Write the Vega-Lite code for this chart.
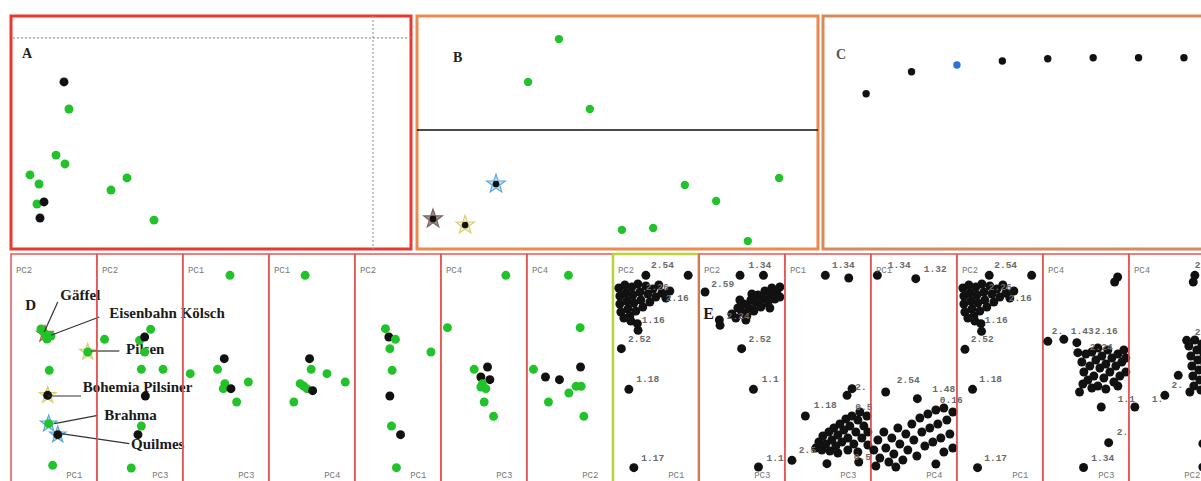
{
"$schema":"https://vega.github.io/schema/vega-lite/v6.json",
"background":"white",
"padding":{"left":8,"top":13,"right":0,"bottom":0},
"spacing":0,
"datasets":{"bottom":[
{"panel":"D1","kind":"hy","txt":"PC2","x":-3.79,"y":10.0},{"panel":"D1","kind":"hx","txt":"PC1","x":2.85,"y":-10.5},
{"panel":"D2","kind":"hy","txt":"PC2","x":-3.79,"y":10.0},{"panel":"D2","kind":"hx","txt":"PC3","x":2.85,"y":-10.5},
{"panel":"D3","kind":"hy","txt":"PC1","x":-3.79,"y":10.0},{"panel":"D3","kind":"hx","txt":"PC3","x":2.85,"y":-10.5},
{"panel":"D4","kind":"hy","txt":"PC1","x":-3.79,"y":10.0},{"panel":"D4","kind":"hx","txt":"PC4","x":2.85,"y":-10.5},
{"panel":"D5","kind":"hy","txt":"PC2","x":-3.79,"y":10.0},{"panel":"D5","kind":"hx","txt":"PC1","x":2.85,"y":-10.5},
{"panel":"D6","kind":"hy","txt":"PC4","x":-3.79,"y":10.0},{"panel":"D6","kind":"hx","txt":"PC3","x":2.85,"y":-10.5},
{"panel":"D7","kind":"hy","txt":"PC4","x":-3.79,"y":10.0},{"panel":"D7","kind":"hx","txt":"PC2","x":2.85,"y":-10.5},
{"panel":"E1","kind":"hy","txt":"PC2","x":-3.79,"y":10.0},{"panel":"E1","kind":"hx","txt":"PC1","x":2.85,"y":-10.5},
{"panel":"E2","kind":"hy","txt":"PC2","x":-3.79,"y":10.0},{"panel":"E2","kind":"hx","txt":"PC3","x":2.85,"y":-10.5},
{"panel":"E3","kind":"hy","txt":"PC1","x":-3.79,"y":10.0},{"panel":"E3","kind":"hx","txt":"PC3","x":2.85,"y":-10.5},
{"panel":"E4","kind":"hy","txt":"PC1","x":-3.79,"y":10.0},{"panel":"E4","kind":"hx","txt":"PC4","x":2.85,"y":-10.5},
{"panel":"E5","kind":"hy","txt":"PC2","x":-3.79,"y":10.0},{"panel":"E5","kind":"hx","txt":"PC1","x":2.85,"y":-10.5},
{"panel":"E6","kind":"hy","txt":"PC4","x":-3.79,"y":10.0},{"panel":"E6","kind":"hx","txt":"PC3","x":2.85,"y":-10.5},
{"panel":"E7","kind":"hy","txt":"PC4","x":-3.79,"y":10.0},{"panel":"E7","kind":"hx","txt":"PC2","x":2.85,"y":-10.5},
{"panel":"D1","kind":"s","st":"brown","x":-0.89,"y":3.6},{"panel":"D1","kind":"s","st":"yellow","x":3.39,"y":1.8},{"panel":"D1","kind":"s","st":"yellow","x":-0.62,"y":-2.53},
{"panel":"D1","kind":"s","st":"blue","x":-0.52,"y":-5.37},{"panel":"D1","kind":"s","st":"blue","x":0.39,"y":-6.47},
{"panel":"D1","kind":"p","grp":"g","x":-1.29,"y":4.1},{"panel":"D1","kind":"p","grp":"g","x":-0.69,"y":3.1},{"panel":"D1","kind":"p","grp":"g","x":-0.29,"y":3.4},
{"panel":"D1","kind":"p","grp":"g","x":-0.89,"y":3.6},{"panel":"D1","kind":"p","grp":"g","x":3.39,"y":1.8},{"panel":"D1","kind":"p","grp":"g","x":-0.46,"y":-0.03},
{"panel":"D1","kind":"p","grp":"b","x":-0.62,"y":-2.53},{"panel":"D1","kind":"p","grp":"g","x":-0.52,"y":-5.37},{"panel":"D1","kind":"p","grp":"b","x":0.39,"y":-6.47},
{"panel":"D1","kind":"p","grp":"g","x":-0.12,"y":-9.53},
{"panel":"D2","kind":"p","grp":"g","x":-3.53,"y":3.07},{"panel":"D2","kind":"p","grp":"g","x":1.08,"y":4.07},{"panel":"D2","kind":"p","grp":"g","x":-0.03,"y":2.97},
{"panel":"D2","kind":"p","grp":"b","x":0.48,"y":3.3},{"panel":"D2","kind":"p","grp":"g","x":0.48,"y":1.8},{"panel":"D2","kind":"p","grp":"g","x":0.15,"y":0.07},
{"panel":"D2","kind":"p","grp":"g","x":2.32,"y":0.07},{"panel":"D2","kind":"p","grp":"b","x":0.55,"y":-2.6},{"panel":"D2","kind":"p","grp":"g","x":0.15,"y":-5.6},
{"panel":"D2","kind":"p","grp":"b","x":-0.19,"y":-6.47},{"panel":"D2","kind":"p","grp":"g","x":-0.86,"y":-9.8},
{"panel":"D3","kind":"p","grp":"g","x":0.41,"y":9.47},{"panel":"D3","kind":"p","grp":"b","x":-0.16,"y":1.13},{"panel":"D3","kind":"p","grp":"g","x":-0.83,"y":0.07},
{"panel":"D3","kind":"p","grp":"g","x":-3.56,"y":-0.37},{"panel":"D3","kind":"p","grp":"g","x":2.25,"y":-1.2},{"panel":"D3","kind":"p","grp":"g","x":-0.1,"y":-1.37},
{"panel":"D3","kind":"p","grp":"g","x":-0.26,"y":-1.87},{"panel":"D3","kind":"p","grp":"b","x":0.51,"y":-1.87},{"panel":"D3","kind":"p","grp":"g","x":1.08,"y":-3.2},
{"panel":"D4","kind":"p","grp":"g","x":-0.67,"y":9.47},{"panel":"D4","kind":"p","grp":"b","x":-0.23,"y":1.13},{"panel":"D4","kind":"p","grp":"g","x":-0.07,"y":0.07},
{"panel":"D4","kind":"p","grp":"g","x":1.51,"y":-0.37},{"panel":"D4","kind":"p","grp":"g","x":3.34,"y":-1.2},{"panel":"D4","kind":"p","grp":"g","x":-1.17,"y":-1.37},
{"panel":"D4","kind":"p","grp":"g","x":-0.83,"y":-1.6},{"panel":"D4","kind":"p","grp":"g","x":-0.5,"y":-1.87},{"panel":"D4","kind":"p","grp":"b","x":0.08,"y":-2.07},
{"panel":"D4","kind":"p","grp":"g","x":-1.8,"y":-3.2},
{"panel":"D5","kind":"p","grp":"g","x":-1.24,"y":4.13},{"panel":"D5","kind":"p","grp":"b","x":-0.9,"y":3.3},{"panel":"D5","kind":"p","grp":"g","x":-0.24,"y":3.07},
{"panel":"D5","kind":"p","grp":"g","x":-0.8,"y":2.13},{"panel":"D5","kind":"p","grp":"g","x":3.31,"y":1.8},{"panel":"D5","kind":"p","grp":"g","x":-0.57,"y":-0.03},
{"panel":"D5","kind":"p","grp":"b","x":-0.8,"y":-2.6},{"panel":"D5","kind":"p","grp":"g","x":-0.64,"y":-5.6},{"panel":"D5","kind":"p","grp":"b","x":0.27,"y":-6.47},
{"panel":"D5","kind":"p","grp":"g","x":-0.14,"y":-9.77},
{"panel":"D6","kind":"p","grp":"g","x":2.2,"y":9.47},{"panel":"D6","kind":"p","grp":"g","x":-3.64,"y":4.23},{"panel":"D6","kind":"p","grp":"g","x":-0.97,"y":0.07},
{"panel":"D6","kind":"p","grp":"b","x":0.37,"y":0.3},{"panel":"D6","kind":"p","grp":"b","x":-0.3,"y":-0.7},{"panel":"D6","kind":"p","grp":"b","x":0.6,"y":-0.97},
{"panel":"D6","kind":"p","grp":"g","x":-0.14,"y":-1.37},{"panel":"D6","kind":"p","grp":"g","x":0.2,"y":-1.87},{"panel":"D6","kind":"p","grp":"g","x":-0.3,"y":-1.7},
{"panel":"D6","kind":"p","grp":"g","x":0.03,"y":-3.2},{"panel":"D6","kind":"p","grp":"g","x":0.97,"y":-4.63},
{"panel":"D7","kind":"p","grp":"g","x":-0.14,"y":9.47},{"panel":"D7","kind":"p","grp":"g","x":1.03,"y":4.23},{"panel":"D7","kind":"p","grp":"g","x":-3.64,"y":0.07},
{"panel":"D7","kind":"p","grp":"b","x":-2.44,"y":-0.7},{"panel":"D7","kind":"p","grp":"b","x":-1.04,"y":-0.97},{"panel":"D7","kind":"p","grp":"b","x":1.07,"y":0.3},
{"panel":"D7","kind":"p","grp":"g","x":0.63,"y":-1.63},{"panel":"D7","kind":"p","grp":"g","x":1.13,"y":-1.63},{"panel":"D7","kind":"p","grp":"g","x":-0.1,"y":-2.3},
{"panel":"D7","kind":"p","grp":"g","x":-2.14,"y":-3.2},{"panel":"D7","kind":"p","grp":"g","x":1.4,"y":-4.63},
{"panel":"D1","kind":"t","txt":"D","x":-2.85,"y":6.47},{"panel":"D1","kind":"t","txt":"Gäffel","x":0.65,"y":7.53},
{"panel":"D1","kind":"t","txt":"Eisenbahn Kölsch","x":5.55,"y":5.73},{"panel":"D1","kind":"t","txt":"Pilsen","x":7.22,"y":2.07},
{"panel":"D1","kind":"t","txt":"Bohemia Pilsiner","x":2.89,"y":-1.7},{"panel":"D1","kind":"t","txt":"Brahma","x":5.05,"y":-4.47},
{"panel":"D1","kind":"t","txt":"Quilmes","x":7.72,"y":-7.37},{"panel":"E2","kind":"t","txt":"E","x":-3.85,"y":5.63},
{"panel":"D1","kind":"l","x":0.39,"y":6.8,"x2":-0.96,"y2":3.8},{"panel":"D1","kind":"l","x":4.55,"y":5.3,"x2":-0.29,"y2":3.47},
{"panel":"D1","kind":"l","x":6.55,"y":1.9,"x2":3.72,"y2":1.9},{"panel":"D1","kind":"l","x":2.72,"y":-2.6,"x2":-0.62,"y2":-2.6},
{"panel":"D1","kind":"l","x":4.39,"y":-4.53,"x2":0.05,"y2":-5.37},{"panel":"D1","kind":"l","x":7.55,"y":-7.37,"x2":0.72,"y2":-6.37},
{"panel":"E1","kind":"p","grp":"b","x":-1.0,"y":9.47},{"panel":"E1","kind":"p","grp":"b","x":3.23,"y":9.47},{"panel":"E1","kind":"p","grp":"b","x":-3.45,"y":2.13},
{"panel":"E1","kind":"p","grp":"b","x":-2.7,"y":-1.93},{"panel":"E1","kind":"p","grp":"b","x":-2.2,"y":-9.77},{"panel":"E1","kind":"p","grp":"b","x":-1.85,"y":4.63},
{"panel":"E1","kind":"p","grp":"b","x":-1.78,"y":3.97},
{"panel":"E1","kind":"p","grp":"b","x":-3.7,"y":8.2},{"panel":"E1","kind":"p","grp":"b","x":-3.6,"y":7.4},{"panel":"E1","kind":"p","grp":"b","x":-3.6,"y":6.6},
{"panel":"E1","kind":"p","grp":"b","x":-3.5,"y":5.8},{"panel":"E1","kind":"p","grp":"b","x":-3.1,"y":8.5},{"panel":"E1","kind":"p","grp":"b","x":-3.0,"y":7.7},
{"panel":"E1","kind":"p","grp":"b","x":-2.9,"y":6.9},{"panel":"E1","kind":"p","grp":"b","x":-2.8,"y":6.1},{"panel":"E1","kind":"p","grp":"b","x":-2.6,"y":5.4},
{"panel":"E1","kind":"p","grp":"b","x":-2.4,"y":8.3},{"panel":"E1","kind":"p","grp":"b","x":-2.3,"y":7.5},{"panel":"E1","kind":"p","grp":"b","x":-2.2,"y":6.7},
{"panel":"E1","kind":"p","grp":"b","x":-2.0,"y":5.9},{"panel":"E1","kind":"p","grp":"b","x":-1.8,"y":8.6},{"panel":"E1","kind":"p","grp":"b","x":-1.6,"y":7.8},
{"panel":"E1","kind":"p","grp":"b","x":-1.5,"y":7.0},{"panel":"E1","kind":"p","grp":"b","x":-1.3,"y":6.3},{"panel":"E1","kind":"p","grp":"b","x":-1.0,"y":8.4},
{"panel":"E1","kind":"p","grp":"b","x":-0.8,"y":7.6},{"panel":"E1","kind":"p","grp":"b","x":-0.6,"y":6.8},{"panel":"E1","kind":"p","grp":"b","x":-0.3,"y":8.1},
{"panel":"E1","kind":"p","grp":"b","x":0.0,"y":7.3},{"panel":"E1","kind":"p","grp":"b","x":0.3,"y":8.5},{"panel":"E1","kind":"p","grp":"b","x":0.6,"y":7.7},
{"panel":"E1","kind":"p","grp":"b","x":1.0,"y":7.2},{"panel":"E1","kind":"p","grp":"b","x":1.4,"y":7.9},{"panel":"E1","kind":"p","grp":"b","x":-3.2,"y":5.2},
{"panel":"E1","kind":"p","grp":"b","x":-2.5,"y":4.9},
{"panel":"E2","kind":"p","grp":"b","x":-0.18,"y":9.47},{"panel":"E2","kind":"p","grp":"b","x":2.16,"y":9.47},{"panel":"E2","kind":"p","grp":"b","x":-3.68,"y":7.8},
{"panel":"E2","kind":"p","grp":"b","x":-2.18,"y":4.47},{"panel":"E2","kind":"p","grp":"b","x":-2.25,"y":5.0},{"panel":"E2","kind":"p","grp":"b","x":-0.02,"y":2.13},
{"panel":"E2","kind":"p","grp":"b","x":1.16,"y":-1.93},{"panel":"E2","kind":"p","grp":"b","x":1.66,"y":-9.7},
{"panel":"E2","kind":"p","grp":"b","x":-1.0,"y":5.6},{"panel":"E2","kind":"p","grp":"b","x":-0.6,"y":5.2},{"panel":"E2","kind":"p","grp":"b","x":-0.4,"y":6.2},
{"panel":"E2","kind":"p","grp":"b","x":0.0,"y":5.8},{"panel":"E2","kind":"p","grp":"b","x":0.2,"y":6.6},{"panel":"E2","kind":"p","grp":"b","x":0.5,"y":5.4},
{"panel":"E2","kind":"p","grp":"b","x":0.7,"y":6.2},{"panel":"E2","kind":"p","grp":"b","x":0.9,"y":7.0},{"panel":"E2","kind":"p","grp":"b","x":1.2,"y":5.9},
{"panel":"E2","kind":"p","grp":"b","x":1.4,"y":6.7},{"panel":"E2","kind":"p","grp":"b","x":1.6,"y":7.5},{"panel":"E2","kind":"p","grp":"b","x":1.9,"y":6.3},
{"panel":"E2","kind":"p","grp":"b","x":2.1,"y":7.1},{"panel":"E2","kind":"p","grp":"b","x":2.3,"y":7.9},{"panel":"E2","kind":"p","grp":"b","x":2.6,"y":6.7},
{"panel":"E2","kind":"p","grp":"b","x":2.8,"y":7.5},{"panel":"E2","kind":"p","grp":"b","x":3.0,"y":8.2},{"panel":"E2","kind":"p","grp":"b","x":3.3,"y":7.1},
{"panel":"E2","kind":"p","grp":"b","x":3.5,"y":7.8},{"panel":"E2","kind":"p","grp":"b","x":3.8,"y":8.3},{"panel":"E2","kind":"p","grp":"b","x":3.8,"y":7.3},
{"panel":"E2","kind":"p","grp":"b","x":1.0,"y":7.6},{"panel":"E2","kind":"p","grp":"b","x":-0.2,"y":7.0},{"panel":"E2","kind":"p","grp":"b","x":2.8,"y":6.2},
{"panel":"E2","kind":"p","grp":"b","x":0.4,"y":5.0},
{"panel":"E3","kind":"p","grp":"b","x":-0.25,"y":9.47},{"panel":"E3","kind":"p","grp":"b","x":2.09,"y":9.2},{"panel":"E3","kind":"p","grp":"b","x":-2.25,"y":-4.6},
{"panel":"E3","kind":"p","grp":"b","x":1.92,"y":-2.53},{"panel":"E3","kind":"p","grp":"b","x":2.42,"y":-1.87},{"panel":"E3","kind":"p","grp":"b","x":-3.59,"y":-9.03},
{"panel":"E3","kind":"p","grp":"b","x":-0.09,"y":-9.37},{"panel":"E3","kind":"p","grp":"b","x":3.09,"y":-9.2},
{"panel":"E3","kind":"p","grp":"b","x":-1.2,"y":-7.8},{"panel":"E3","kind":"p","grp":"b","x":-0.9,"y":-7.2},{"panel":"E3","kind":"p","grp":"b","x":-0.6,"y":-8.0},
{"panel":"E3","kind":"p","grp":"b","x":-0.5,"y":-6.6},{"panel":"E3","kind":"p","grp":"b","x":-0.2,"y":-7.4},{"panel":"E3","kind":"p","grp":"b","x":0.1,"y":-6.2},
{"panel":"E3","kind":"p","grp":"b","x":0.2,"y":-8.1},{"panel":"E3","kind":"p","grp":"b","x":0.4,"y":-7.0},{"panel":"E3","kind":"p","grp":"b","x":0.6,"y":-5.8},
{"panel":"E3","kind":"p","grp":"b","x":0.8,"y":-7.6},{"panel":"E3","kind":"p","grp":"b","x":1.0,"y":-6.5},{"panel":"E3","kind":"p","grp":"b","x":1.2,"y":-5.4},
{"panel":"E3","kind":"p","grp":"b","x":1.4,"y":-7.2},{"panel":"E3","kind":"p","grp":"b","x":1.6,"y":-6.0},{"panel":"E3","kind":"p","grp":"b","x":1.8,"y":-4.9},
{"panel":"E3","kind":"p","grp":"b","x":2.0,"y":-6.8},{"panel":"E3","kind":"p","grp":"b","x":2.2,"y":-5.6},{"panel":"E3","kind":"p","grp":"b","x":2.4,"y":-4.6},
{"panel":"E3","kind":"p","grp":"b","x":2.6,"y":-7.4},{"panel":"E3","kind":"p","grp":"b","x":2.8,"y":-6.2},{"panel":"E3","kind":"p","grp":"b","x":3.0,"y":-5.0},
{"panel":"E3","kind":"p","grp":"b","x":3.2,"y":-4.2},{"panel":"E3","kind":"p","grp":"b","x":3.4,"y":-6.8},{"panel":"E3","kind":"p","grp":"b","x":3.6,"y":-5.6},
{"panel":"E3","kind":"p","grp":"b","x":3.9,"y":-4.6},{"panel":"E3","kind":"p","grp":"b","x":4.0,"y":-6.2},{"panel":"E3","kind":"p","grp":"b","x":4.0,"y":-7.5},
{"panel":"E3","kind":"p","grp":"b","x":1.0,"y":-8.3},{"panel":"E3","kind":"p","grp":"b","x":2.0,"y":-8.0},{"panel":"E3","kind":"p","grp":"b","x":3.0,"y":-8.2},
{"panel":"E4","kind":"p","grp":"b","x":-3.65,"y":9.47},{"panel":"E4","kind":"p","grp":"b","x":0.19,"y":9.13},{"panel":"E4","kind":"p","grp":"b","x":-2.82,"y":-2.2},
{"panel":"E4","kind":"p","grp":"b","x":0.35,"y":-2.87},
{"panel":"E4","kind":"p","grp":"b","x":-4.0,"y":-8.0},{"panel":"E4","kind":"p","grp":"b","x":-3.6,"y":-7.0},{"panel":"E4","kind":"p","grp":"b","x":-3.4,"y":-8.8},
{"panel":"E4","kind":"p","grp":"b","x":-3.0,"y":-6.2},{"panel":"E4","kind":"p","grp":"b","x":-2.8,"y":-7.8},{"panel":"E4","kind":"p","grp":"b","x":-2.5,"y":-9.2},
{"panel":"E4","kind":"p","grp":"b","x":-2.2,"y":-6.8},{"panel":"E4","kind":"p","grp":"b","x":-2.0,"y":-8.4},{"panel":"E4","kind":"p","grp":"b","x":-1.6,"y":-5.8},
{"panel":"E4","kind":"p","grp":"b","x":-1.4,"y":-7.4},{"panel":"E4","kind":"p","grp":"b","x":-1.1,"y":-9.0},{"panel":"E4","kind":"p","grp":"b","x":-0.8,"y":-6.4},
{"panel":"E4","kind":"p","grp":"b","x":-0.6,"y":-8.0},{"panel":"E4","kind":"p","grp":"b","x":-0.2,"y":-5.4},{"panel":"E4","kind":"p","grp":"b","x":0.0,"y":-7.0},
{"panel":"E4","kind":"p","grp":"b","x":0.3,"y":-8.6},{"panel":"E4","kind":"p","grp":"b","x":0.6,"y":-4.8},{"panel":"E4","kind":"p","grp":"b","x":0.8,"y":-6.2},
{"panel":"E4","kind":"p","grp":"b","x":1.1,"y":-7.6},{"panel":"E4","kind":"p","grp":"b","x":1.4,"y":-4.4},{"panel":"E4","kind":"p","grp":"b","x":1.6,"y":-5.8},
{"panel":"E4","kind":"p","grp":"b","x":1.9,"y":-7.2},{"panel":"E4","kind":"p","grp":"b","x":2.2,"y":-4.0},{"panel":"E4","kind":"p","grp":"b","x":2.4,"y":-5.4},
{"panel":"E4","kind":"p","grp":"b","x":2.7,"y":-6.8},{"panel":"E4","kind":"p","grp":"b","x":3.0,"y":-8.2},{"panel":"E4","kind":"p","grp":"b","x":3.0,"y":-3.8},
{"panel":"E4","kind":"p","grp":"b","x":3.3,"y":-5.0},{"panel":"E4","kind":"p","grp":"b","x":3.6,"y":-6.4},{"panel":"E4","kind":"p","grp":"b","x":3.9,"y":-4.2},
{"panel":"E4","kind":"p","grp":"b","x":3.9,"y":-7.8},{"panel":"E4","kind":"p","grp":"b","x":-3.8,"y":-9.6},{"panel":"E4","kind":"p","grp":"b","x":-1.8,"y":-9.7},
{"panel":"E4","kind":"p","grp":"b","x":2.2,"y":-9.4},
{"panel":"E5","kind":"p","grp":"b","x":-1.06,"y":9.47},{"panel":"E5","kind":"p","grp":"b","x":3.18,"y":9.47},{"panel":"E5","kind":"p","grp":"b","x":-1.89,"y":4.63},
{"panel":"E5","kind":"p","grp":"b","x":-1.83,"y":3.87},{"panel":"E5","kind":"p","grp":"b","x":-3.49,"y":2.07},{"panel":"E5","kind":"p","grp":"b","x":-2.73,"y":-1.93},
{"panel":"E5","kind":"p","grp":"b","x":-2.23,"y":-9.77},
{"panel":"E5","kind":"p","grp":"b","x":-3.7,"y":8.2},{"panel":"E5","kind":"p","grp":"b","x":-3.6,"y":7.4},{"panel":"E5","kind":"p","grp":"b","x":-3.6,"y":6.6},
{"panel":"E5","kind":"p","grp":"b","x":-3.5,"y":5.8},{"panel":"E5","kind":"p","grp":"b","x":-3.1,"y":8.5},{"panel":"E5","kind":"p","grp":"b","x":-3.0,"y":7.7},
{"panel":"E5","kind":"p","grp":"b","x":-2.9,"y":6.9},{"panel":"E5","kind":"p","grp":"b","x":-2.8,"y":6.1},{"panel":"E5","kind":"p","grp":"b","x":-2.6,"y":5.4},
{"panel":"E5","kind":"p","grp":"b","x":-2.4,"y":8.3},{"panel":"E5","kind":"p","grp":"b","x":-2.3,"y":7.5},{"panel":"E5","kind":"p","grp":"b","x":-2.2,"y":6.7},
{"panel":"E5","kind":"p","grp":"b","x":-2.0,"y":5.9},{"panel":"E5","kind":"p","grp":"b","x":-1.8,"y":8.6},{"panel":"E5","kind":"p","grp":"b","x":-1.6,"y":7.8},
{"panel":"E5","kind":"p","grp":"b","x":-1.5,"y":7.0},{"panel":"E5","kind":"p","grp":"b","x":-1.3,"y":6.3},{"panel":"E5","kind":"p","grp":"b","x":-1.0,"y":8.4},
{"panel":"E5","kind":"p","grp":"b","x":-0.8,"y":7.6},{"panel":"E5","kind":"p","grp":"b","x":-0.6,"y":6.8},{"panel":"E5","kind":"p","grp":"b","x":-0.3,"y":8.1},
{"panel":"E5","kind":"p","grp":"b","x":0.0,"y":7.3},{"panel":"E5","kind":"p","grp":"b","x":0.3,"y":8.5},{"panel":"E5","kind":"p","grp":"b","x":0.6,"y":7.7},
{"panel":"E5","kind":"p","grp":"b","x":1.0,"y":7.2},{"panel":"E5","kind":"p","grp":"b","x":1.4,"y":7.9},{"panel":"E5","kind":"p","grp":"b","x":-3.2,"y":5.2},
{"panel":"E5","kind":"p","grp":"b","x":-2.5,"y":4.9},
{"panel":"E6","kind":"p","grp":"b","x":2.88,"y":8.8},{"panel":"E6","kind":"p","grp":"b","x":3.18,"y":9.3},{"panel":"E6","kind":"p","grp":"b","x":-3.8,"y":2.87},
{"panel":"E6","kind":"p","grp":"b","x":-2.2,"y":3.07},{"panel":"E6","kind":"p","grp":"b","x":-0.9,"y":2.73},{"panel":"E6","kind":"p","grp":"b","x":-0.8,"y":1.73},
{"panel":"E6","kind":"p","grp":"b","x":-0.63,"y":-2.2},{"panel":"E6","kind":"p","grp":"b","x":1.54,"y":-3.7},{"panel":"E6","kind":"p","grp":"b","x":2.28,"y":-7.27},
{"panel":"E6","kind":"p","grp":"b","x":-0.23,"y":-9.75},
{"panel":"E6","kind":"p","grp":"b","x":-0.4,"y":0.8},{"panel":"E6","kind":"p","grp":"b","x":-0.2,"y":-0.2},{"panel":"E6","kind":"p","grp":"b","x":0.0,"y":1.6},
{"panel":"E6","kind":"p","grp":"b","x":0.2,"y":-1.0},{"panel":"E6","kind":"p","grp":"b","x":0.4,"y":0.4},{"panel":"E6","kind":"p","grp":"b","x":0.6,"y":1.8},
{"panel":"E6","kind":"p","grp":"b","x":0.8,"y":-0.6},{"panel":"E6","kind":"p","grp":"b","x":1.0,"y":1.0},{"panel":"E6","kind":"p","grp":"b","x":1.2,"y":-1.6},
{"panel":"E6","kind":"p","grp":"b","x":1.4,"y":0.2},{"panel":"E6","kind":"p","grp":"b","x":1.6,"y":1.4},{"panel":"E6","kind":"p","grp":"b","x":1.8,"y":-0.8},
{"panel":"E6","kind":"p","grp":"b","x":2.0,"y":0.6},{"panel":"E6","kind":"p","grp":"b","x":2.2,"y":2.0},{"panel":"E6","kind":"p","grp":"b","x":2.4,"y":-0.2},
{"panel":"E6","kind":"p","grp":"b","x":2.6,"y":1.2},{"panel":"E6","kind":"p","grp":"b","x":2.8,"y":-1.2},{"panel":"E6","kind":"p","grp":"b","x":3.0,"y":0.4},
{"panel":"E6","kind":"p","grp":"b","x":3.2,"y":1.6},{"panel":"E6","kind":"p","grp":"b","x":3.4,"y":-0.6},{"panel":"E6","kind":"p","grp":"b","x":3.6,"y":0.8},
{"panel":"E6","kind":"p","grp":"b","x":3.8,"y":2.0},{"panel":"E6","kind":"p","grp":"b","x":4.0,"y":-0.2},{"panel":"E6","kind":"p","grp":"b","x":4.0,"y":1.2},
{"panel":"E6","kind":"p","grp":"b","x":0.6,"y":-1.8},{"panel":"E6","kind":"p","grp":"b","x":2.0,"y":-1.9},{"panel":"E6","kind":"p","grp":"b","x":3.2,"y":-1.6},
{"panel":"E6","kind":"p","grp":"b","x":1.2,"y":2.2},{"panel":"E6","kind":"p","grp":"b","x":-0.3,"y":-1.4},
{"panel":"E7","kind":"p","grp":"b","x":2.3,"y":9.47},{"panel":"E7","kind":"p","grp":"b","x":2.14,"y":8.8},{"panel":"E7","kind":"p","grp":"b","x":-3.7,"y":-3.7},
{"panel":"E7","kind":"p","grp":"b","x":-0.7,"y":-2.53},{"panel":"E7","kind":"p","grp":"b","x":0.64,"y":-0.53},{"panel":"E7","kind":"p","grp":"b","x":1.48,"y":2.97},
{"panel":"E7","kind":"p","grp":"b","x":3.1,"y":-7.37},{"panel":"E7","kind":"p","grp":"b","x":3.1,"y":-9.7},
{"panel":"E7","kind":"p","grp":"b","x":1.7,"y":2.4},{"panel":"E7","kind":"p","grp":"b","x":1.9,"y":1.4},{"panel":"E7","kind":"p","grp":"b","x":2.0,"y":0.4},
{"panel":"E7","kind":"p","grp":"b","x":2.1,"y":-0.6},{"panel":"E7","kind":"p","grp":"b","x":2.2,"y":-1.6},{"panel":"E7","kind":"p","grp":"b","x":2.3,"y":3.0},
{"panel":"E7","kind":"p","grp":"b","x":2.5,"y":2.0},{"panel":"E7","kind":"p","grp":"b","x":2.6,"y":1.0},{"panel":"E7","kind":"p","grp":"b","x":2.7,"y":0.0},
{"panel":"E7","kind":"p","grp":"b","x":2.8,"y":-1.0},{"panel":"E7","kind":"p","grp":"b","x":2.9,"y":-2.0},{"panel":"E7","kind":"p","grp":"b","x":3.0,"y":2.6},
{"panel":"E7","kind":"p","grp":"b","x":3.2,"y":1.6},{"panel":"E7","kind":"p","grp":"b","x":3.3,"y":0.6},{"panel":"E7","kind":"p","grp":"b","x":3.4,"y":-0.4},
{"panel":"E7","kind":"p","grp":"b","x":3.4,"y":-1.4},{"panel":"E7","kind":"p","grp":"b","x":3.6,"y":2.2},{"panel":"E7","kind":"p","grp":"b","x":3.8,"y":1.0},
{"panel":"E7","kind":"p","grp":"b","x":4.0,"y":-0.6},{"panel":"E7","kind":"p","grp":"b","x":1.8,"y":-2.2},
{"panel":"E1","kind":"n","txt":"2.54","x":-0.48,"y":10.5},{"panel":"E1","kind":"n","txt":"2.52","x":-2.78,"y":3.07},{"panel":"E1","kind":"n","txt":"1.18","x":-1.95,"y":-0.87},
{"panel":"E1","kind":"n","txt":"1.17","x":-1.45,"y":-8.77},{"panel":"E1","kind":"n","txt":"2.16","x":1.0,"y":7.2},{"panel":"E1","kind":"n","txt":"1.16","x":-1.4,"y":5.0},
{"panel":"E1","kind":"n","txt":"2.26","x":-1.0,"y":8.3},
{"panel":"E2","kind":"n","txt":"1.34","x":0.66,"y":10.5},{"panel":"E2","kind":"n","txt":"2.59","x":-3.05,"y":8.63},{"panel":"E2","kind":"n","txt":"2.52","x":0.66,"y":3.1},
{"panel":"E2","kind":"n","txt":"1.1","x":1.98,"y":-0.87},{"panel":"E2","kind":"n","txt":"1.1","x":2.47,"y":-8.77},{"panel":"E2","kind":"n","txt":"2.24","x":-1.5,"y":5.4},
{"panel":"E3","kind":"n","txt":"1.34","x":0.41,"y":10.5},{"panel":"E3","kind":"n","txt":"1.18","x":-1.4,"y":-3.5},{"panel":"E3","kind":"n","txt":"2.5","x":-2.9,"y":-8.0},
{"panel":"E3","kind":"n","txt":"2.","x":2.75,"y":-1.7},{"panel":"E3","kind":"n","txt":"0.5","x":2.75,"y":-3.7},{"panel":"E3","kind":"n","txt":"0.5","x":2.6,"y":-8.7},
{"panel":"E4","kind":"n","txt":"1.34","x":-2.6,"y":10.5},{"panel":"E4","kind":"n","txt":"1.32","x":1.0,"y":10.1},{"panel":"E4","kind":"n","txt":"1.48","x":1.85,"y":-1.87},
{"panel":"E4","kind":"n","txt":"2.54","x":-1.7,"y":-1.0},{"panel":"E4","kind":"n","txt":"0.16","x":2.6,"y":-3.0},
{"panel":"E5","kind":"n","txt":"2.54","x":-0.56,"y":10.5},{"panel":"E5","kind":"n","txt":"2.52","x":-2.9,"y":3.07},{"panel":"E5","kind":"n","txt":"1.18","x":-2.06,"y":-0.87},
{"panel":"E5","kind":"n","txt":"1.17","x":-1.56,"y":-8.77},{"panel":"E5","kind":"n","txt":"2.16","x":0.9,"y":7.2},{"panel":"E5","kind":"n","txt":"1.16","x":-1.5,"y":5.0},
{"panel":"E5","kind":"n","txt":"2.26","x":-1.1,"y":8.3},
{"panel":"E6","kind":"n","txt":"2.","x":-3.4,"y":3.9},{"panel":"E6","kind":"n","txt":"1.43","x":-1.5,"y":3.9},{"panel":"E6","kind":"n","txt":"2.16","x":0.9,"y":3.9},
{"panel":"E6","kind":"n","txt":"2.24","x":0.4,"y":2.3},{"panel":"E6","kind":"n","txt":"1.1","x":3.2,"y":-2.87},{"panel":"E6","kind":"n","txt":"2.","x":3.1,"y":-6.2},
{"panel":"E6","kind":"n","txt":"1.34","x":0.55,"y":-8.77},
{"panel":"E7","kind":"n","txt":"1.","x":-2.0,"y":-2.87},{"panel":"E7","kind":"n","txt":"2.","x":-0.03,"y":-1.53},{"panel":"E7","kind":"n","txt":"2.5","x":2.3,"y":3.8},
{"panel":"E7","kind":"n","txt":"2","x":2.3,"y":10.5}
]},
"vconcat":[
{"hconcat":[
 {"width":400,"height":233,"view":{"stroke":"#e8392f","strokeWidth":3},
  "layer":[
   {"data":{"values":[{"v":90.6}]},"mark":{"type":"rule","color":"#9a9a9a","strokeDash":[2,2],"strokeWidth":1.2},"encoding":{"y":{"field":"v","type":"quantitative","scale":{"domain":[0,100],"nice":false,"zero":false},"axis":null}}},
   {"data":{"values":[{"v":90.5}]},"mark":{"type":"rule","color":"#9a9a9a","strokeDash":[2,2],"strokeWidth":1.2},"encoding":{"x":{"field":"v","type":"quantitative","scale":{"domain":[0,100],"nice":false,"zero":false},"axis":null}}},
   {"data":{"values":[
     {"grp":"b","x":13.25,"y":71.7},{"grp":"g","x":14.5,"y":60.1},{"grp":"g","x":11.25,"y":40.3},{"grp":"g","x":13.5,"y":36.5},
     {"grp":"g","x":4.75,"y":31.8},{"grp":"g","x":7.0,"y":27.9},{"grp":"g","x":25.0,"y":25.3},{"grp":"g","x":29.0,"y":30.5},
     {"grp":"g","x":6.5,"y":19.3},{"grp":"b","x":8.25,"y":20.2},{"grp":"b","x":7.25,"y":13.3},{"grp":"g","x":35.75,"y":12.4}]},
    "mark":{"type":"circle","size":80,"opacity":1},
    "encoding":{"x":{"field":"x","type":"quantitative","scale":{"domain":[0,100],"nice":false,"zero":false},"axis":null},
     "y":{"field":"y","type":"quantitative","scale":{"domain":[0,100],"nice":false,"zero":false},"axis":null},
     "color":{"field":"grp","type":"nominal","scale":{"domain":["g","b"],"range":["#22c32a","#111111"]},"legend":null}}},
   {"data":{"values":[{"label":"A","x":2.75,"y":83.6}]},"mark":{"type":"text","font":"Liberation Serif","fontWeight":"bold","fontSize":14,"align":"left","baseline":"middle","color":"#222"},
    "encoding":{"x":{"field":"x","type":"quantitative","scale":{"domain":[0,100],"nice":false,"zero":false},"axis":null},"y":{"field":"y","type":"quantitative","scale":{"domain":[0,100],"nice":false,"zero":false},"axis":null},"text":{"field":"label"}}}
  ]},
 {"width":401,"height":233,"view":{"stroke":"#ea8a4e","strokeWidth":3},
  "layer":[
   {"data":{"values":[{"v":51.1}]},"mark":{"type":"rule","color":"#111","strokeWidth":1.5},"encoding":{"y":{"field":"v","type":"quantitative","scale":{"domain":[0,100],"nice":false,"zero":false},"axis":null}}},
   {"data":{"values":[{"st":"dark","x":4.0,"y":12.9},{"st":"yellow","x":12.0,"y":10.3},{"st":"blue","x":19.7,"y":27.9}]},
    "mark":{"type":"point","shape":"M0,-1L0.235,-0.324L0.951,-0.309L0.38,0.124L0.588,0.809L0,0.4L-0.588,0.809L-0.38,0.124L-0.951,-0.309L-0.235,-0.324Z","filled":true,"size":380,"fillOpacity":0.5,"strokeWidth":1.2},
    "encoding":{"x":{"field":"x","type":"quantitative","scale":{"domain":[0,100],"nice":false,"zero":false},"axis":null},
     "y":{"field":"y","type":"quantitative","scale":{"domain":[0,100],"nice":false,"zero":false},"axis":null},
     "fill":{"field":"st","type":"nominal","scale":{"domain":["dark","brown","yellow","blue"],"range":["#3a2222","#b07840","#eee58a","#8fc8ef"]},"legend":null},
     "stroke":{"field":"st","type":"nominal","scale":{"domain":["dark","brown","yellow","blue"],"range":["#806060","#a06a3a","#d8d070","#5aa8e0"]},"legend":null}}},
   {"data":{"values":[{"x":4.0,"y":12.9},{"x":12.0,"y":10.3},{"x":19.7,"y":27.9}]},
    "mark":{"type":"circle","size":45,"opacity":1,"color":"#111"},
    "encoding":{"x":{"field":"x","type":"quantitative","scale":{"domain":[0,100],"nice":false,"zero":false},"axis":null},
     "y":{"field":"y","type":"quantitative","scale":{"domain":[0,100],"nice":false,"zero":false},"axis":null}}},
   {"data":{"values":[
     {"x":35.4,"y":90.1},{"x":27.7,"y":71.7},{"x":43.1,"y":60.1},{"x":51.1,"y":8.2},{"x":58.9,"y":9.0},{"x":66.8,"y":27.5},
     {"x":74.6,"y":20.6},{"x":82.5,"y":3.4},{"x":90.3,"y":30.5}]},
    "mark":{"type":"circle","size":70,"opacity":1,"color":"#22c32a"},
    "encoding":{"x":{"field":"x","type":"quantitative","scale":{"domain":[0,100],"nice":false,"zero":false},"axis":null},
     "y":{"field":"y","type":"quantitative","scale":{"domain":[0,100],"nice":false,"zero":false},"axis":null}}},
   {"data":{"values":[{"label":"B","x":9.0,"y":81.8}]},"mark":{"type":"text","font":"Liberation Serif","fontWeight":"bold","fontSize":14,"align":"left","baseline":"middle","color":"#222"},
    "encoding":{"x":{"field":"x","type":"quantitative","scale":{"domain":[0,100],"nice":false,"zero":false},"axis":null},"y":{"field":"y","type":"quantitative","scale":{"domain":[0,100],"nice":false,"zero":false},"axis":null},"text":{"field":"label"}}}
  ]},
 {"width":400,"height":233,"view":{"stroke":"#d9895a","strokeWidth":3},
  "data":{"values":[
     {"pc":1,"cum":66.65,"grp":"b"},{"pc":2,"cum":76.1,"grp":"b"},{"pc":3,"cum":79.0,"grp":"u"},{"pc":4,"cum":80.7,"grp":"b"},
     {"pc":5,"cum":81.67,"grp":"b"},{"pc":6,"cum":82.1,"grp":"b"},{"pc":7,"cum":82.1,"grp":"b"},{"pc":8,"cum":82.1,"grp":"b"},
     {"pc":0.336,"cum":83.1,"grp":"lab","label":"C"}]},
  "encoding":{"x":{"field":"pc","type":"quantitative","scale":{"domain":[0.05,8.86],"nice":false,"zero":false},"axis":null},
     "y":{"field":"cum","type":"quantitative","scale":{"domain":[0,100],"nice":false,"zero":false},"axis":null}},
  "layer":[
   {"transform":[{"filter":"datum.grp==='b'"}],"mark":{"type":"circle","size":55,"opacity":1,"color":"#111"}},
   {"transform":[{"filter":"datum.grp==='u'"}],"mark":{"type":"circle","size":55,"opacity":1,"color":"#2f6fe0"}},
   {"transform":[{"filter":"datum.grp==='lab'"}],"mark":{"type":"text","font":"Liberation Serif","fontWeight":"bold","fontSize":14,"align":"left","baseline":"middle","color":"#555"},"encoding":{"text":{"field":"label"}}}
  ]}
],"spacing":0},
{"hconcat":[
 {"data":{"name":"bottom"},"transform":[{"filter":"datum.panel==='D1'"}],"width":85.7,"height":232,"view":{"stroke":"#e2585a","strokeWidth":1.5},
  "encoding":{"x":{"field":"x","type":"quantitative","scale":{"domain":[-4.285,4.285],"nice":false,"zero":false},"axis":null},"y":{"field":"y","type":"quantitative","scale":{"domain":[-11.6,11.6],"nice":false,"zero":false},"axis":null}},
  "layer":[
   {"transform":[{"filter":"datum.kind==='s'"}],"mark":{"type":"point","shape":"M0,-1L0.235,-0.324L0.951,-0.309L0.38,0.124L0.588,0.809L0,0.4L-0.588,0.809L-0.38,0.124L-0.951,-0.309L-0.235,-0.324Z","filled":true,"size":300,"fillOpacity":0.55,"strokeWidth":1.2},
    "encoding":{"fill":{"field":"st","type":"nominal","scale":{"domain":["dark","brown","yellow","blue"],"range":["#3a2222","#b07840","#eee58a","#8fc8ef"]},"legend":null},
     "stroke":{"field":"st","type":"nominal","scale":{"domain":["dark","brown","yellow","blue"],"range":["#806060","#a06a3a","#d8d070","#5aa8e0"]},"legend":null}}},
   {"transform":[{"filter":"datum.kind==='p'"}],"mark":{"type":"circle","size":80,"opacity":1},"encoding":{"color":{"field":"grp","type":"nominal","scale":{"domain":["g","b"],"range":["#22c32a","#111111"]},"legend":null}}},
   {"transform":[{"filter":"datum.kind==='l'"}],"mark":{"type":"rule","color":"#333","strokeWidth":1.2},"encoding":{"x2":{"field":"x2"},"y2":{"field":"y2"}}},
   {"transform":[{"filter":"datum.kind==='t'"}],"mark":{"type":"text","font":"Liberation Serif","fontWeight":"bold","fontSize":15,"align":"left","baseline":"middle","color":"#1a1a1a"},"encoding":{"text":{"field":"txt"}}},
   {"transform":[{"filter":"datum.kind==='hy'"}],"mark":{"type":"text","font":"Liberation Mono","fontSize":9,"align":"left","baseline":"middle","color":"#7a7a7a"},"encoding":{"text":{"field":"txt"}}},
   {"transform":[{"filter":"datum.kind==='hx'"}],"mark":{"type":"text","font":"Liberation Mono","fontSize":9,"align":"right","baseline":"middle","color":"#7a7a7a"},"encoding":{"text":{"field":"txt"}}}
  ]},
 {"data":{"name":"bottom"},"transform":[{"filter":"datum.panel==='D2'"}],"width":85.7,"height":232,"view":{"stroke":"#e2585a","strokeWidth":1.5},
  "encoding":{"x":{"field":"x","type":"quantitative","scale":{"domain":[-4.285,4.285],"nice":false,"zero":false},"axis":null},"y":{"field":"y","type":"quantitative","scale":{"domain":[-11.6,11.6],"nice":false,"zero":false},"axis":null}},
  "layer":[
   {"transform":[{"filter":"datum.kind==='p'"}],"mark":{"type":"circle","size":80,"opacity":1},"encoding":{"color":{"field":"grp","type":"nominal","scale":{"domain":["g","b"],"range":["#22c32a","#111111"]},"legend":null}}},
   {"transform":[{"filter":"datum.kind==='hy'"}],"mark":{"type":"text","font":"Liberation Mono","fontSize":9,"align":"left","baseline":"middle","color":"#7a7a7a"},"encoding":{"text":{"field":"txt"}}},
   {"transform":[{"filter":"datum.kind==='hx'"}],"mark":{"type":"text","font":"Liberation Mono","fontSize":9,"align":"right","baseline":"middle","color":"#7a7a7a"},"encoding":{"text":{"field":"txt"}}}
  ]},
 {"data":{"name":"bottom"},"transform":[{"filter":"datum.panel==='D3'"}],"width":85.7,"height":232,"view":{"stroke":"#e2585a","strokeWidth":1.5},
  "encoding":{"x":{"field":"x","type":"quantitative","scale":{"domain":[-4.285,4.285],"nice":false,"zero":false},"axis":null},"y":{"field":"y","type":"quantitative","scale":{"domain":[-11.6,11.6],"nice":false,"zero":false},"axis":null}},
  "layer":[
   {"transform":[{"filter":"datum.kind==='p'"}],"mark":{"type":"circle","size":80,"opacity":1},"encoding":{"color":{"field":"grp","type":"nominal","scale":{"domain":["g","b"],"range":["#22c32a","#111111"]},"legend":null}}},
   {"transform":[{"filter":"datum.kind==='hy'"}],"mark":{"type":"text","font":"Liberation Mono","fontSize":9,"align":"left","baseline":"middle","color":"#7a7a7a"},"encoding":{"text":{"field":"txt"}}},
   {"transform":[{"filter":"datum.kind==='hx'"}],"mark":{"type":"text","font":"Liberation Mono","fontSize":9,"align":"right","baseline":"middle","color":"#7a7a7a"},"encoding":{"text":{"field":"txt"}}}
  ]},
 {"data":{"name":"bottom"},"transform":[{"filter":"datum.panel==='D4'"}],"width":85.7,"height":232,"view":{"stroke":"#e2585a","strokeWidth":1.5},
  "encoding":{"x":{"field":"x","type":"quantitative","scale":{"domain":[-4.285,4.285],"nice":false,"zero":false},"axis":null},"y":{"field":"y","type":"quantitative","scale":{"domain":[-11.6,11.6],"nice":false,"zero":false},"axis":null}},
  "layer":[
   {"transform":[{"filter":"datum.kind==='p'"}],"mark":{"type":"circle","size":80,"opacity":1},"encoding":{"color":{"field":"grp","type":"nominal","scale":{"domain":["g","b"],"range":["#22c32a","#111111"]},"legend":null}}},
   {"transform":[{"filter":"datum.kind==='hy'"}],"mark":{"type":"text","font":"Liberation Mono","fontSize":9,"align":"left","baseline":"middle","color":"#7a7a7a"},"encoding":{"text":{"field":"txt"}}},
   {"transform":[{"filter":"datum.kind==='hx'"}],"mark":{"type":"text","font":"Liberation Mono","fontSize":9,"align":"right","baseline":"middle","color":"#7a7a7a"},"encoding":{"text":{"field":"txt"}}}
  ]},
 {"data":{"name":"bottom"},"transform":[{"filter":"datum.panel==='D5'"}],"width":85.7,"height":232,"view":{"stroke":"#e2585a","strokeWidth":1.5},
  "encoding":{"x":{"field":"x","type":"quantitative","scale":{"domain":[-4.285,4.285],"nice":false,"zero":false},"axis":null},"y":{"field":"y","type":"quantitative","scale":{"domain":[-11.6,11.6],"nice":false,"zero":false},"axis":null}},
  "layer":[
   {"transform":[{"filter":"datum.kind==='p'"}],"mark":{"type":"circle","size":80,"opacity":1},"encoding":{"color":{"field":"grp","type":"nominal","scale":{"domain":["g","b"],"range":["#22c32a","#111111"]},"legend":null}}},
   {"transform":[{"filter":"datum.kind==='hy'"}],"mark":{"type":"text","font":"Liberation Mono","fontSize":9,"align":"left","baseline":"middle","color":"#7a7a7a"},"encoding":{"text":{"field":"txt"}}},
   {"transform":[{"filter":"datum.kind==='hx'"}],"mark":{"type":"text","font":"Liberation Mono","fontSize":9,"align":"right","baseline":"middle","color":"#7a7a7a"},"encoding":{"text":{"field":"txt"}}}
  ]},
 {"data":{"name":"bottom"},"transform":[{"filter":"datum.panel==='D6'"}],"width":85.7,"height":232,"view":{"stroke":"#e2585a","strokeWidth":1.5},
  "encoding":{"x":{"field":"x","type":"quantitative","scale":{"domain":[-4.285,4.285],"nice":false,"zero":false},"axis":null},"y":{"field":"y","type":"quantitative","scale":{"domain":[-11.6,11.6],"nice":false,"zero":false},"axis":null}},
  "layer":[
   {"transform":[{"filter":"datum.kind==='p'"}],"mark":{"type":"circle","size":80,"opacity":1},"encoding":{"color":{"field":"grp","type":"nominal","scale":{"domain":["g","b"],"range":["#22c32a","#111111"]},"legend":null}}},
   {"transform":[{"filter":"datum.kind==='hy'"}],"mark":{"type":"text","font":"Liberation Mono","fontSize":9,"align":"left","baseline":"middle","color":"#7a7a7a"},"encoding":{"text":{"field":"txt"}}},
   {"transform":[{"filter":"datum.kind==='hx'"}],"mark":{"type":"text","font":"Liberation Mono","fontSize":9,"align":"right","baseline":"middle","color":"#7a7a7a"},"encoding":{"text":{"field":"txt"}}}
  ]},
 {"data":{"name":"bottom"},"transform":[{"filter":"datum.panel==='D7'"}],"width":85.7,"height":232,"view":{"stroke":"#e2585a","strokeWidth":1.5},
  "encoding":{"x":{"field":"x","type":"quantitative","scale":{"domain":[-4.285,4.285],"nice":false,"zero":false},"axis":null},"y":{"field":"y","type":"quantitative","scale":{"domain":[-11.6,11.6],"nice":false,"zero":false},"axis":null}},
  "layer":[
   {"transform":[{"filter":"datum.kind==='p'"}],"mark":{"type":"circle","size":80,"opacity":1},"encoding":{"color":{"field":"grp","type":"nominal","scale":{"domain":["g","b"],"range":["#22c32a","#111111"]},"legend":null}}},
   {"transform":[{"filter":"datum.kind==='hy'"}],"mark":{"type":"text","font":"Liberation Mono","fontSize":9,"align":"left","baseline":"middle","color":"#7a7a7a"},"encoding":{"text":{"field":"txt"}}},
   {"transform":[{"filter":"datum.kind==='hx'"}],"mark":{"type":"text","font":"Liberation Mono","fontSize":9,"align":"right","baseline":"middle","color":"#7a7a7a"},"encoding":{"text":{"field":"txt"}}}
  ]},
 {"data":{"name":"bottom"},"transform":[{"filter":"datum.panel==='E1'"}],"width":85.7,"height":232,"view":{"stroke":"#bcd23c","strokeWidth":2.5},
  "encoding":{"x":{"field":"x","type":"quantitative","scale":{"domain":[-4.285,4.285],"nice":false,"zero":false},"axis":null},"y":{"field":"y","type":"quantitative","scale":{"domain":[-11.6,11.6],"nice":false,"zero":false},"axis":null}},
  "layer":[
   {"transform":[{"filter":"datum.kind==='p'"}],"mark":{"type":"circle","size":80,"opacity":1},"encoding":{"color":{"field":"grp","type":"nominal","scale":{"domain":["g","b"],"range":["#22c32a","#111111"]},"legend":null}}},
   {"transform":[{"filter":"datum.kind==='n'"}],"mark":{"type":"text","font":"Liberation Mono","fontWeight":"bold","fontSize":9.5,"align":"left","baseline":"middle","color":"#6a6a6a"},"encoding":{"text":{"field":"txt"}}},
   {"transform":[{"filter":"datum.kind==='hy'"}],"mark":{"type":"text","font":"Liberation Mono","fontSize":9,"align":"left","baseline":"middle","color":"#7a7a7a"},"encoding":{"text":{"field":"txt"}}},
   {"transform":[{"filter":"datum.kind==='hx'"}],"mark":{"type":"text","font":"Liberation Mono","fontSize":9,"align":"right","baseline":"middle","color":"#7a7a7a"},"encoding":{"text":{"field":"txt"}}}
  ]},
 {"data":{"name":"bottom"},"transform":[{"filter":"datum.panel==='E2'"}],"width":85.7,"height":232,"view":{"stroke":"#e2585a","strokeWidth":1.5},
  "encoding":{"x":{"field":"x","type":"quantitative","scale":{"domain":[-4.285,4.285],"nice":false,"zero":false},"axis":null},"y":{"field":"y","type":"quantitative","scale":{"domain":[-11.6,11.6],"nice":false,"zero":false},"axis":null}},
  "layer":[
   {"transform":[{"filter":"datum.kind==='p'"}],"mark":{"type":"circle","size":80,"opacity":1},"encoding":{"color":{"field":"grp","type":"nominal","scale":{"domain":["g","b"],"range":["#22c32a","#111111"]},"legend":null}}},
   {"transform":[{"filter":"datum.kind==='n'"}],"mark":{"type":"text","font":"Liberation Mono","fontWeight":"bold","fontSize":9.5,"align":"left","baseline":"middle","color":"#6a6a6a"},"encoding":{"text":{"field":"txt"}}},
   {"transform":[{"filter":"datum.kind==='t'"}],"mark":{"type":"text","font":"Liberation Serif","fontWeight":"bold","fontSize":16,"align":"left","baseline":"middle","color":"#1a1a1a"},"encoding":{"text":{"field":"txt"}}},
   {"transform":[{"filter":"datum.kind==='hy'"}],"mark":{"type":"text","font":"Liberation Mono","fontSize":9,"align":"left","baseline":"middle","color":"#7a7a7a"},"encoding":{"text":{"field":"txt"}}},
   {"transform":[{"filter":"datum.kind==='hx'"}],"mark":{"type":"text","font":"Liberation Mono","fontSize":9,"align":"right","baseline":"middle","color":"#7a7a7a"},"encoding":{"text":{"field":"txt"}}}
  ]},
 {"data":{"name":"bottom"},"transform":[{"filter":"datum.panel==='E3'"}],"width":85.7,"height":232,"view":{"stroke":"#e2585a","strokeWidth":1.5},
  "encoding":{"x":{"field":"x","type":"quantitative","scale":{"domain":[-4.285,4.285],"nice":false,"zero":false},"axis":null},"y":{"field":"y","type":"quantitative","scale":{"domain":[-11.6,11.6],"nice":false,"zero":false},"axis":null}},
  "layer":[
   {"transform":[{"filter":"datum.kind==='p'"}],"mark":{"type":"circle","size":80,"opacity":1},"encoding":{"color":{"field":"grp","type":"nominal","scale":{"domain":["g","b"],"range":["#22c32a","#111111"]},"legend":null}}},
   {"transform":[{"filter":"datum.kind==='n'"}],"mark":{"type":"text","font":"Liberation Mono","fontWeight":"bold","fontSize":9.5,"align":"left","baseline":"middle","color":"#6a6a6a"},"encoding":{"text":{"field":"txt"}}},
   {"transform":[{"filter":"datum.kind==='hy'"}],"mark":{"type":"text","font":"Liberation Mono","fontSize":9,"align":"left","baseline":"middle","color":"#7a7a7a"},"encoding":{"text":{"field":"txt"}}},
   {"transform":[{"filter":"datum.kind==='hx'"}],"mark":{"type":"text","font":"Liberation Mono","fontSize":9,"align":"right","baseline":"middle","color":"#7a7a7a"},"encoding":{"text":{"field":"txt"}}}
  ]},
 {"data":{"name":"bottom"},"transform":[{"filter":"datum.panel==='E4'"}],"width":85.7,"height":232,"view":{"stroke":"#e2585a","strokeWidth":1.5},
  "encoding":{"x":{"field":"x","type":"quantitative","scale":{"domain":[-4.285,4.285],"nice":false,"zero":false},"axis":null},"y":{"field":"y","type":"quantitative","scale":{"domain":[-11.6,11.6],"nice":false,"zero":false},"axis":null}},
  "layer":[
   {"transform":[{"filter":"datum.kind==='p'"}],"mark":{"type":"circle","size":80,"opacity":1},"encoding":{"color":{"field":"grp","type":"nominal","scale":{"domain":["g","b"],"range":["#22c32a","#111111"]},"legend":null}}},
   {"transform":[{"filter":"datum.kind==='n'"}],"mark":{"type":"text","font":"Liberation Mono","fontWeight":"bold","fontSize":9.5,"align":"left","baseline":"middle","color":"#6a6a6a"},"encoding":{"text":{"field":"txt"}}},
   {"transform":[{"filter":"datum.kind==='hy'"}],"mark":{"type":"text","font":"Liberation Mono","fontSize":9,"align":"left","baseline":"middle","color":"#7a7a7a"},"encoding":{"text":{"field":"txt"}}},
   {"transform":[{"filter":"datum.kind==='hx'"}],"mark":{"type":"text","font":"Liberation Mono","fontSize":9,"align":"right","baseline":"middle","color":"#7a7a7a"},"encoding":{"text":{"field":"txt"}}}
  ]},
 {"data":{"name":"bottom"},"transform":[{"filter":"datum.panel==='E5'"}],"width":85.7,"height":232,"view":{"stroke":"#e2585a","strokeWidth":1.5},
  "encoding":{"x":{"field":"x","type":"quantitative","scale":{"domain":[-4.285,4.285],"nice":false,"zero":false},"axis":null},"y":{"field":"y","type":"quantitative","scale":{"domain":[-11.6,11.6],"nice":false,"zero":false},"axis":null}},
  "layer":[
   {"transform":[{"filter":"datum.kind==='p'"}],"mark":{"type":"circle","size":80,"opacity":1},"encoding":{"color":{"field":"grp","type":"nominal","scale":{"domain":["g","b"],"range":["#22c32a","#111111"]},"legend":null}}},
   {"transform":[{"filter":"datum.kind==='n'"}],"mark":{"type":"text","font":"Liberation Mono","fontWeight":"bold","fontSize":9.5,"align":"left","baseline":"middle","color":"#6a6a6a"},"encoding":{"text":{"field":"txt"}}},
   {"transform":[{"filter":"datum.kind==='hy'"}],"mark":{"type":"text","font":"Liberation Mono","fontSize":9,"align":"left","baseline":"middle","color":"#7a7a7a"},"encoding":{"text":{"field":"txt"}}},
   {"transform":[{"filter":"datum.kind==='hx'"}],"mark":{"type":"text","font":"Liberation Mono","fontSize":9,"align":"right","baseline":"middle","color":"#7a7a7a"},"encoding":{"text":{"field":"txt"}}}
  ]},
 {"data":{"name":"bottom"},"transform":[{"filter":"datum.panel==='E6'"}],"width":85.7,"height":232,"view":{"stroke":"#e2585a","strokeWidth":1.5},
  "encoding":{"x":{"field":"x","type":"quantitative","scale":{"domain":[-4.285,4.285],"nice":false,"zero":false},"axis":null},"y":{"field":"y","type":"quantitative","scale":{"domain":[-11.6,11.6],"nice":false,"zero":false},"axis":null}},
  "layer":[
   {"transform":[{"filter":"datum.kind==='p'"}],"mark":{"type":"circle","size":80,"opacity":1},"encoding":{"color":{"field":"grp","type":"nominal","scale":{"domain":["g","b"],"range":["#22c32a","#111111"]},"legend":null}}},
   {"transform":[{"filter":"datum.kind==='n'"}],"mark":{"type":"text","font":"Liberation Mono","fontWeight":"bold","fontSize":9.5,"align":"left","baseline":"middle","color":"#6a6a6a"},"encoding":{"text":{"field":"txt"}}},
   {"transform":[{"filter":"datum.kind==='hy'"}],"mark":{"type":"text","font":"Liberation Mono","fontSize":9,"align":"left","baseline":"middle","color":"#7a7a7a"},"encoding":{"text":{"field":"txt"}}},
   {"transform":[{"filter":"datum.kind==='hx'"}],"mark":{"type":"text","font":"Liberation Mono","fontSize":9,"align":"right","baseline":"middle","color":"#7a7a7a"},"encoding":{"text":{"field":"txt"}}}
  ]},
 {"data":{"name":"bottom"},"transform":[{"filter":"datum.panel==='E7'"}],"width":85.7,"height":232,"view":{"stroke":"#e2585a","strokeWidth":1.5},
  "encoding":{"x":{"field":"x","type":"quantitative","scale":{"domain":[-4.285,4.285],"nice":false,"zero":false},"axis":null},"y":{"field":"y","type":"quantitative","scale":{"domain":[-11.6,11.6],"nice":false,"zero":false},"axis":null}},
  "layer":[
   {"transform":[{"filter":"datum.kind==='p'"}],"mark":{"type":"circle","size":80,"opacity":1},"encoding":{"color":{"field":"grp","type":"nominal","scale":{"domain":["g","b"],"range":["#22c32a","#111111"]},"legend":null}}},
   {"transform":[{"filter":"datum.kind==='n'"}],"mark":{"type":"text","font":"Liberation Mono","fontWeight":"bold","fontSize":9.5,"align":"left","baseline":"middle","color":"#6a6a6a"},"encoding":{"text":{"field":"txt"}}},
   {"transform":[{"filter":"datum.kind==='hy'"}],"mark":{"type":"text","font":"Liberation Mono","fontSize":9,"align":"left","baseline":"middle","color":"#7a7a7a"},"encoding":{"text":{"field":"txt"}}},
   {"transform":[{"filter":"datum.kind==='hx'"}],"mark":{"type":"text","font":"Liberation Mono","fontSize":9,"align":"right","baseline":"middle","color":"#7a7a7a"},"encoding":{"text":{"field":"txt"}}}
  ]}
],"spacing":0,"bounds":"flush"}
]
}
